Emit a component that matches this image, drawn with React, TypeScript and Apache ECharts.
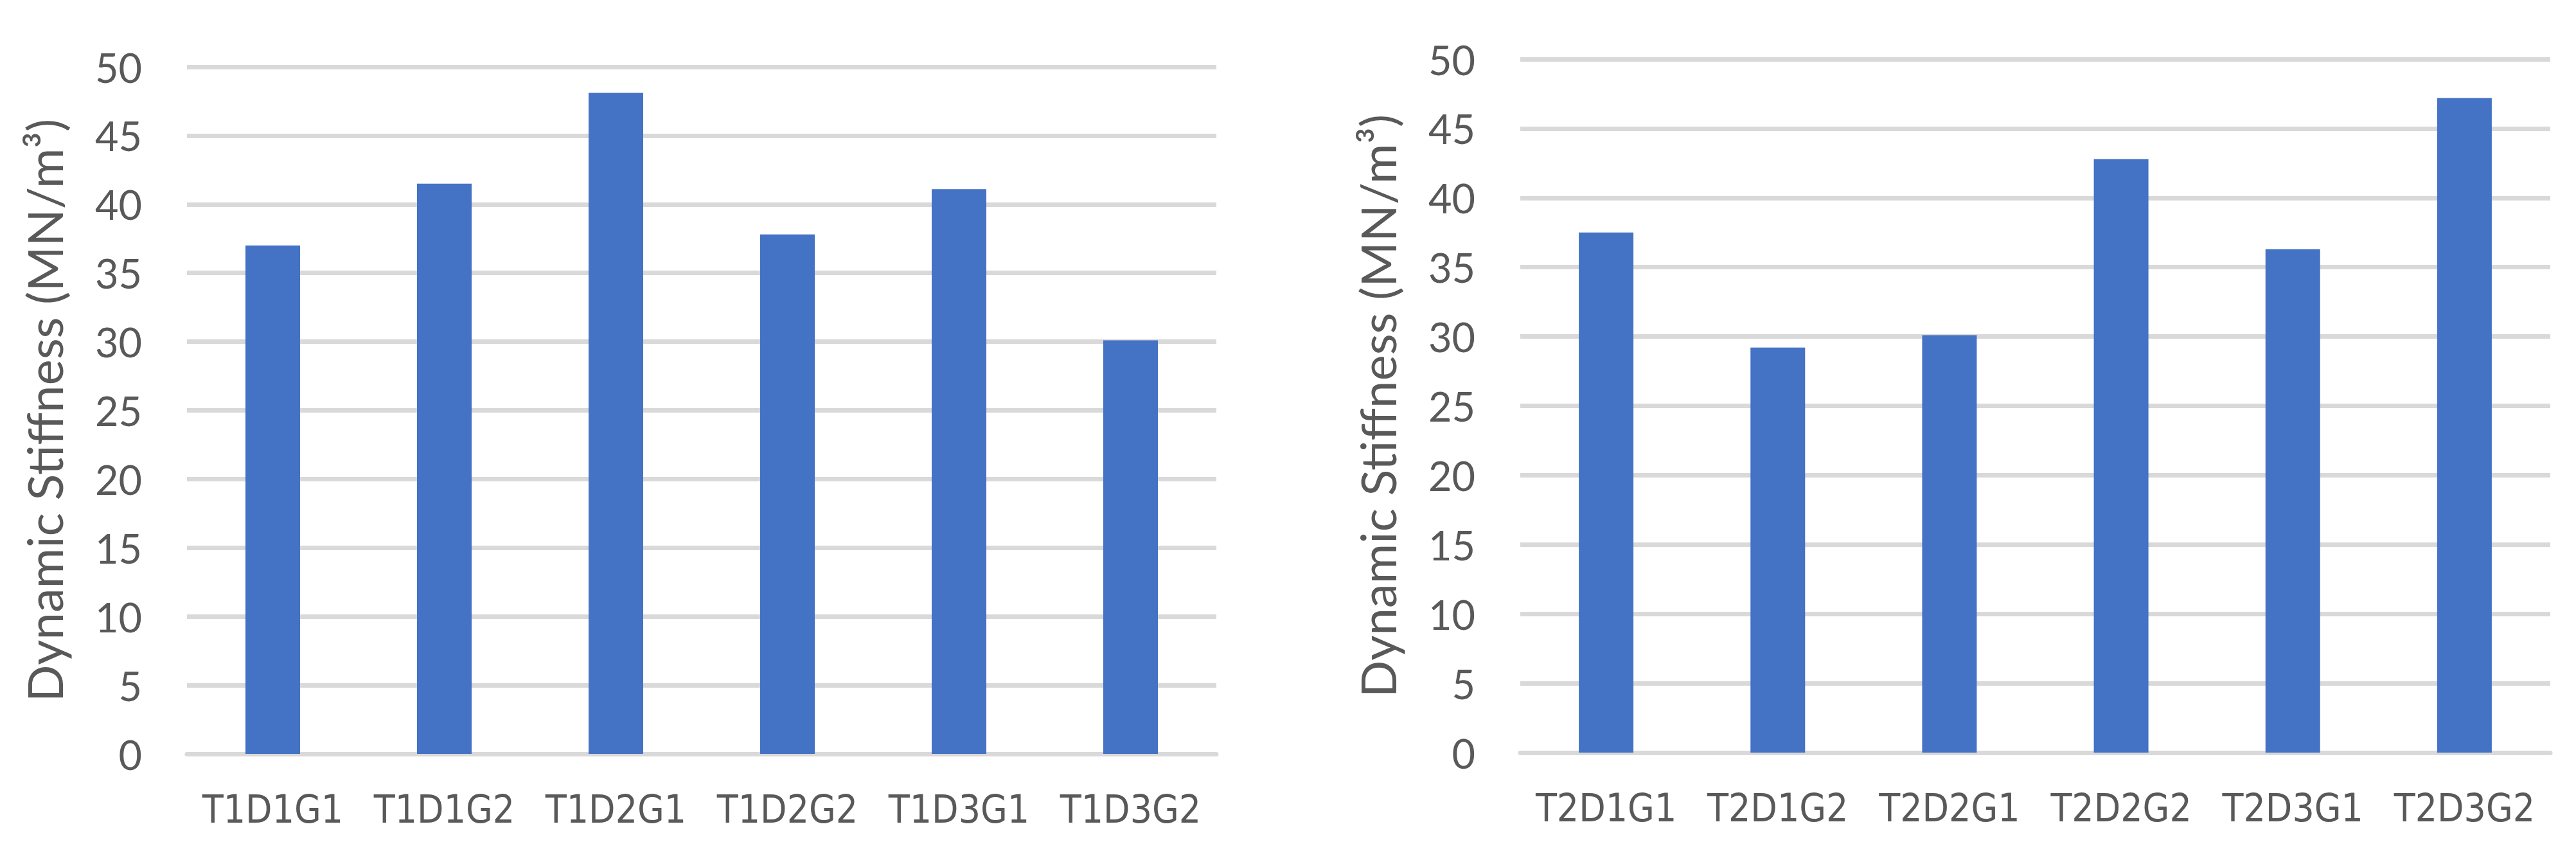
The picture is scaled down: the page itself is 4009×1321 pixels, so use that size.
import React, { useEffect, useRef } from "react";
import * as echarts from "echarts";

const leftCategories = ["T1D1G1", "T1D1G2", "T1D2G1", "T1D2G2", "T1D3G1", "T1D3G2"];
const leftValues = [37.0, 41.5, 48.1, 37.8, 41.1, 30.1];
const rightCategories = ["T2D1G1", "T2D1G2", "T2D2G1", "T2D2G2", "T2D3G1", "T2D3G2"];
const rightValues = [37.5, 29.2, 30.1, 42.8, 36.3, 47.2];
const yTitle = "Dynamic Stiffness (MN/m³)";

const FONT = "Lato";
const NARROW = "'Liberation Sans Narrow', 'DejaVu Sans Condensed', Lato";
const TEXT = "#595959";
const GRID = "#d9d9d9";
const BAR = "#4472C4";

export default function App() {
  const ref = useRef<HTMLDivElement>(null);
  useEffect(() => {
    if (!ref.current) return;
    const chart = echarts.init(ref.current, undefined, { renderer: "svg" });
    const yAxisBase = (gridIndex: number) => ({
      type: "value",
      gridIndex,
      min: 0,
      max: 50,
      interval: 5,
      name: yTitle,
      nameLocation: "middle",
      nameGap: 185,
      nameTextStyle: { color: TEXT, fontFamily: FONT, fontSize: 76 },
      axisLine: { show: false },
      axisTick: { show: false },
      axisLabel: { color: TEXT, fontFamily: FONT, fontSize: 63, margin: 70 },
      splitLine: { show: true, lineStyle: { color: GRID, width: 7 } },
    });
    const xAxisBase = (gridIndex: number, data: string[]) => ({
      type: "category",
      gridIndex,
      data,
      axisLine: { show: true, lineStyle: { color: GRID, width: 7 } },
      axisTick: { show: false },
      axisLabel: { color: TEXT, fontFamily: NARROW, fontSize: 60, margin: 56, interval: 0 },
      splitLine: { show: false },
    });
    chart.setOption({
      animation: false,
      backgroundColor: "#ffffff",
      grid: [
        { left: 291, top: 104, width: 1602, height: 1069 },
        { left: 2366, top: 92, width: 1603, height: 1079 },
      ],
      xAxis: [xAxisBase(0, leftCategories), xAxisBase(1, rightCategories)],
      yAxis: [yAxisBase(0), yAxisBase(1)],
      series: [
        {
          type: "bar",
          xAxisIndex: 0,
          yAxisIndex: 0,
          data: leftValues,
          barWidth: 85,
          itemStyle: { color: BAR },
        },
        {
          type: "bar",
          xAxisIndex: 1,
          yAxisIndex: 1,
          data: rightValues,
          barWidth: 85,
          itemStyle: { color: BAR },
        },
      ],
    });
    return () => chart.dispose();
  }, []);
  return (
    <div
      ref={ref}
      style={{ position: "absolute", left: 0, top: 0, width: 4009, height: 1321, background: "#fff" }}
    />
  );
}
